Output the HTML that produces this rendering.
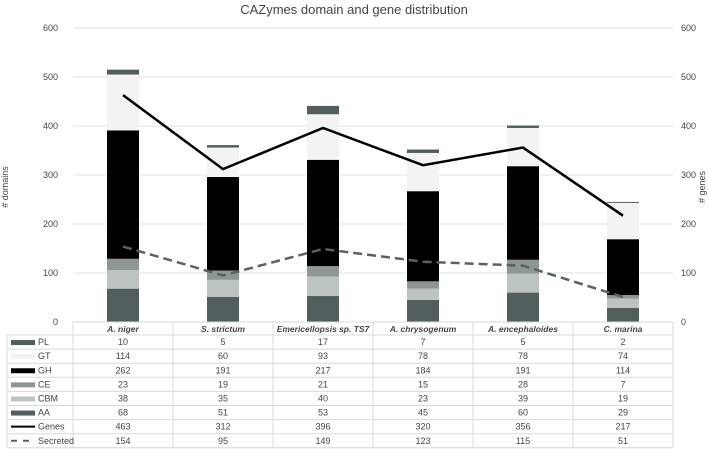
<!DOCTYPE html>
<html><head><meta charset="utf-8"><style>
body{margin:0;background:#fff;font-family:"Liberation Sans",sans-serif;}
svg text{font-family:"Liberation Sans",sans-serif;fill:#444;}
</style></head><body>
<svg id="c" width="709" height="449"></svg>
<script>
const categories=["A. niger","S. strictum","Emericellopsis sp. TS7","A. chrysogenum","A. encephaloides","C. marina"];
const PL=[10,5,17,7,5,2];
const GT=[114,60,93,78,78,74];
const GH=[262,191,217,184,191,114];
const CE=[23,19,21,15,28,7];
const CBM=[38,35,40,23,39,19];
const AA=[68,51,53,45,60,29];
const Genes=[463,312,396,320,356,217];
const Secreted=[154,95,149,123,115,51];
const ticks=[0,100,200,300,400,500,600];
const NS="http://www.w3.org/2000/svg";
const svg=document.getElementById('c');
function mk(t,a,p){const e=document.createElementNS(NS,t);for(const k in a)e.setAttribute(k,a[k]);(p||svg).appendChild(e);return e;}
const x0=73,x1=673,y0=322,pxPer=294/600;
const y=v=>y0-v*pxPer;
const cx=i=>x0+100*i+50;
// title
let t=mk('text',{x:354,y:14,'text-anchor':'middle','font-size':13});t.textContent='CAZymes domain and gene distribution';


ticks.forEach(v=>{
 const g=mk('line',{x1:x0,x2:x1,y1:y(v),y2:y(v),stroke:'#dde3e3','stroke-width':1});
 
 
 const l=mk('text',{x:58,y:y(v)+3,'text-anchor':'end','font-size':9});l.textContent=v;
 
 
 const r=mk('text',{x:681,y:y(v)+3,'font-size':9});r.textContent=v;
 
 
});
let yl=mk('text',{x:0,y:0,'font-size':9,'text-anchor':'middle',transform:'translate(8,187) rotate(-90)'});yl.textContent='# domains';


let yr=mk('text',{x:0,y:0,'font-size':9,'text-anchor':'middle',transform:'translate(705,187) rotate(-90)'});yr.textContent='# genes';


const series=[["AA",AA,"#525e5e"],["CBM",CBM,"#bcc3c1"],["CE",CE,"#8e9795"],["GH",GH,"#000"],["GT",GT,"#f2f3f2"],["PL",PL,"#525e5e"]];
categories.forEach((c,i)=>{
 let acc=0;
 series.forEach(s=>{
  const v=s[1][i];
  const r=mk('rect',{x:cx(i)-16,y:y(acc+v),width:32,height:v*pxPer,fill:s[2]});
  
  
  acc+=v;
 });
});
const gp=Genes.map((v,i)=>cx(i)+','+y(v)).join(' ');
const gl=mk('polyline',{points:gp,fill:'none',stroke:'#000','stroke-width':2.5});


const sp=Secreted.map((v,i)=>cx(i)+','+y(v)).join(' ');
const sl=mk('polyline',{points:sp,fill:'none',stroke:'#5a6262','stroke-width':2.5,'stroke-dasharray':'9,5'});


// table
const rows=[["PL",PL,"#525e5e","bar"],["GT",GT,"#f2f3f2","bar"],["GH",GH,"#000","bar"],["CE",CE,"#8e9795","bar"],["CBM",CBM,"#bcc3c1","bar"],["AA",AA,"#525e5e","bar"],["Genes",Genes,"#000","line"],["Secreted",Secreted,"#5a6262","dash"]];
const ty=322,hh=13,rh=14.1;
const bc='#d5dbdb';
mk('line',{x1:x0,x2:x1,y1:ty,y2:ty,stroke:bc});
mk('line',{x1:7,x2:x1,y1:ty+hh,y2:ty+hh,stroke:bc});
for(let i=0;i<=6;i++) mk('line',{x1:x0+100*i,x2:x0+100*i,y1:ty,y2:ty+hh+8*rh,stroke:bc});
mk('line',{x1:7,x2:7,y1:ty+hh,y2:ty+hh+8*rh,stroke:bc});
categories.forEach((c,i)=>{
 const h=mk('text',{x:cx(i),y:ty+10,'text-anchor':'middle','font-size':8.5,'font-weight':'bold','font-style':'italic',fill:'#333'});
 h.textContent=c;
 
 
});
rows.forEach((r,j)=>{
 const top=ty+hh+j*rh, mid=top+rh/2;
 mk('line',{x1:7,x2:x1,y1:top+rh,y2:top+rh,stroke:bc});
 let k;
 if(r[3]=="bar") k=mk('rect',{x:11,y:mid-2,width:24,height:5,fill:r[2]});
 else if(r[3]=="line") k=mk('line',{x1:11,x2:35,y1:mid,y2:mid,stroke:r[2],'stroke-width':2});
 else k=mk('line',{x1:11,x2:35,y1:mid,y2:mid,stroke:r[2],'stroke-width':2,'stroke-dasharray':'6,6'});
 
 
 const n=mk('text',{x:38,y:mid+3,'font-size':9});n.textContent=r[0];
 
 
 r[1].forEach((v,i)=>{
  const c=mk('text',{x:cx(i),y:mid+3,'text-anchor':'middle','font-size':9});c.textContent=v;
  
  
 });
});
</script>
</body></html>
